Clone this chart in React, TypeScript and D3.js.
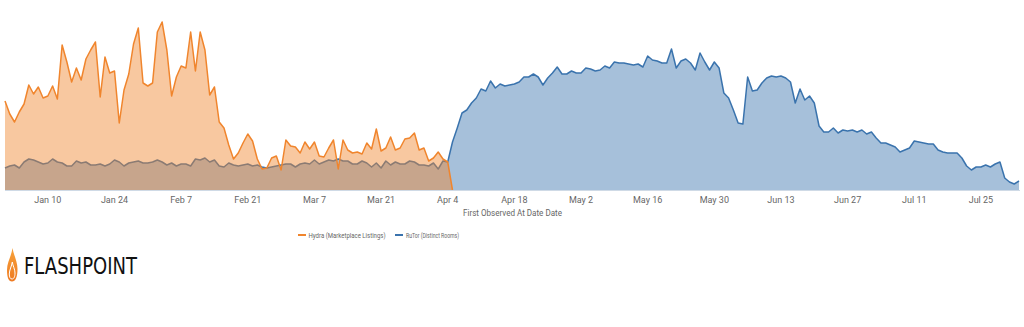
import React from "react";
import * as d3 from "d3";

// Daily series, starting Jan 1 2022
const startDate = new Date(2022, 0, 1);

const hydraValues = [
  89, 76, 68, 78, 86, 105, 96, 103, 92, 94, 104, 91, 145, 128, 108, 122, 110, 131, 140, 148,
  93, 133, 117, 119, 67, 100, 116, 146, 162, 107, 104, 107, 158, 168, 140, 94, 113, 124, 122, 158,
  119, 158, 140, 95, 103, 68, 62, 45, 31, 37, 47, 56, 49, 31, 21, 22, 32, 34, 20, 50,
  44, 43, 37, 48, 41, 48, 34, 33, 42, 50, 21, 50, 40, 37, 38, 36, 47, 41, 61, 39,
  42, 53, 40, 42, 51, 52, 57, 40, 42, 29, 32, 38, 31, 28, 0,
];

const rutorValues = [
  22, 24, 25, 22, 28, 31, 30, 28, 26, 27, 31, 28, 27, 24, 24, 29, 27, 28, 25, 25,
  26, 24, 26, 30, 28, 24, 27, 28, 29, 27, 27, 28, 30, 28, 25, 27, 24, 26, 26, 24,
  31, 30, 32, 28, 30, 24, 23, 27, 25, 24, 25, 26, 24, 25, 23, 22, 23, 24, 25, 26,
  26, 23, 26, 27, 26, 30, 26, 28, 30, 29, 31, 29, 29, 26, 26, 29, 27, 23, 27, 22,
  29, 25, 28, 26, 26, 29, 28, 25, 25, 24, 27, 21, 29, 28, 48, 62, 77, 80, 87, 92,
  101, 99, 109, 102, 106, 104, 105, 106, 108, 113, 113, 116, 113, 105, 112, 117, 123, 116, 116, 119,
  117, 117, 122, 121, 119, 120, 124, 122, 128, 127, 127, 126, 125, 126, 123, 134, 130, 129, 127, 127,
  141, 122, 129, 131, 127, 120, 137, 128, 120, 128, 122, 97, 92, 80, 67, 66, 113, 99, 100, 107,
  112, 114, 113, 114, 112, 108, 87, 101, 90, 94, 87, 64, 58, 58, 62, 57, 60, 59, 60, 58,
  60, 56, 58, 52, 47, 47, 45, 43, 38, 40, 42, 49, 48, 47, 46, 46, 40, 38, 37, 37,
  37, 32, 24, 20, 23, 23, 25, 23, 26, 28, 12, 8, 6, 9,
];

const tickDates = [
  "2022-01-10", "2022-01-24", "2022-02-07", "2022-02-21", "2022-03-07", "2022-03-21", "2022-04-04",
  "2022-04-18", "2022-05-02", "2022-05-16", "2022-05-30", "2022-06-13", "2022-06-27", "2022-07-11",
  "2022-07-25",
];

const seriesNames = ["Hydra (Marketplace Listings)", "RuTor (Distinct Rooms)"];
const axisTitle = "First Observed At Date Date";

const ORANGE = "#f0852d";
const BLUE = "#3a73ad";

type Pt = { date: Date; value: number };

export default function App() {
  const W = 1024;
  const H = 327;
  const baseY = 190;

  const x = d3
    .scaleTime()
    .domain([startDate, d3.timeDay.offset(startDate, 213)])
    .range([5, 1019]);
  const y = d3.scaleLinear().domain([0, 180]).range([baseY, 10]);

  const toPts = (vals: number[]): Pt[] =>
    vals.map((v, i) => ({ date: d3.timeDay.offset(startDate, i), value: v }));

  const hydra = toPts(hydraValues);
  const rutor = toPts(rutorValues);

  const area = d3
    .area<Pt>()
    .x((d) => x(d.date))
    .y0(y(0))
    .y1((d) => y(d.value));
  const line = d3
    .line<Pt>()
    .x((d) => x(d.date))
    .y((d) => y(d.value));

  const parse = d3.timeParse("%Y-%m-%d");
  const fmt = d3.timeFormat("%b %-d");
  const ticks = tickDates.map((s) => parse(s) as Date);

  const font = "Roboto, 'Noto Sans', sans-serif";

  return (
    <svg
      width={W}
      height={H}
      style={{ position: "absolute", left: 0, top: 0, background: "#fff" }}
    >
      <rect x={0} y={0} width={W} height={H} fill="#fff" />
      {/* RuTor */}
      <path d={area(rutor) || ""} fill={BLUE} fillOpacity={0.45} />
      <path d={line(rutor) || ""} fill="none" stroke={BLUE} strokeWidth={1.5} strokeLinejoin="round" />
      {/* Hydra */}
      <path d={area(hydra) || ""} fill={ORANGE} fillOpacity={0.45} />
      <path d={line(hydra) || ""} fill="none" stroke={ORANGE} strokeWidth={1.5} strokeLinejoin="round" />

      {/* axis line */}
      <line x1={5} x2={1020} y1={baseY + 0.5} y2={baseY + 0.5} stroke="#cfdae6" strokeWidth={1} />

      {ticks.map((t, i) => (
        <text
          key={i}
          x={x(t)}
          y={203}
          textAnchor="middle"
          fontFamily={font}
          fontSize={9}
          fill="#666"
        >
          {fmt(t)}
        </text>
      ))}
      <text
        x={463}
        y={216}
        fontFamily={font}
        fontSize={8.5}
        fill="#666"
        textLength={99}
        lengthAdjust="spacingAndGlyphs"
      >
        {axisTitle}
      </text>

      {/* legend */}
      <g fontFamily={font} fontSize={7.3} fill="#666">
        <line x1={298} x2={306} y1={235} y2={235} stroke={ORANGE} strokeWidth={2} />
        <text x={308.5} y={237.6} textLength={77} lengthAdjust="spacingAndGlyphs">
          {seriesNames[0]}
        </text>
        <line x1={395} x2={403} y1={235} y2={235} stroke={BLUE} strokeWidth={2} />
        <text x={406} y={237.6} textLength={53} lengthAdjust="spacingAndGlyphs">
          {seriesNames[1]}
        </text>
      </g>

      {/* logo */}
      <defs>
        <linearGradient id="flame" x1="0" y1="0" x2="0" y2="1">
          <stop offset="0" stopColor="#f7a23a" />
          <stop offset="1" stopColor="#ee7a22" />
        </linearGradient>
      </defs>
      <path
        d="M12.5,248 C13.5,255 17.5,261 17.5,269 C17.5,277 15.5,281.5 12,281.5 C8.5,281.5 7,277 7,270 C7,262 11.5,256 12.5,248 Z"
        fill="url(#flame)"
      />
      <path
        d="M12.3,262 C12.8,266 15,269 15,273 C15,277 13.8,279 12,279 C10.2,279 9.3,277 9.3,274 C9.3,270 11.8,266 12.3,262 Z"
        fill="none"
        stroke="#fff"
        strokeWidth={1}
      />
      <text
        x={24}
        y={274}
        fontFamily="'DejaVu Sans', sans-serif"
        fontSize={23}
        fill="#111"
        textLength={113}
        lengthAdjust="spacingAndGlyphs"
      >
        FLASHPOINT
      </text>
    </svg>
  );
}
